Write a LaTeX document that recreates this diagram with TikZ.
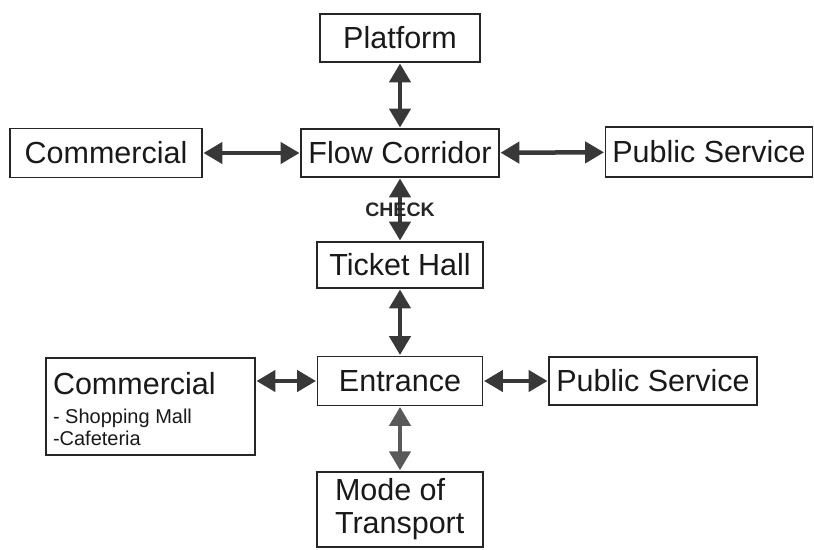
\documentclass[tikz,border=0pt]{standalone}
\usepackage{fontspec}
\setmainfont{Liberation Sans}
\usepackage{tikz}
\usetikzlibrary{positioning}
\usetikzlibrary{arrows.meta}
\colorlet{boxcol}{black!85}
\colorlet{arrcol}{black!78}
\tikzset{>=latex}

\tikzset{
  box/.style={draw=boxcol, line width=1.5pt, inner sep=0pt, text=black!90,
    font=\fontsize{30.5}{33}\selectfont},
  link/.style={arrcol, line width=4.5pt,
    {Triangle[length=19pt,width=21pt]}-{Triangle[length=19pt,width=21pt]}, shorten <=0.7pt, shorten >=0.7pt}
}

\begin{document}
\begin{tikzpicture}[x=1pt,y=-1pt]

\useasboundingbox (0,0) rectangle (814,549);

% ---------------- Upper level ----------------
\node[box, minimum width=160, minimum height=48] (platform) at (400,38) {Platform};
\node[box, minimum width=198, minimum height=48] (corridor) at (400,153) {Flow Corridor};
\node[box, minimum width=192, minimum height=49] (commtop) at (106,153) {Commercial};
\node[box, minimum width=207, minimum height=50] (pubtop) at (709,152) {Public Service};

% ---------------- Ticket hall ----------------
\node[box, minimum width=166, minimum height=46] (ticket) at (400,265) {Ticket Hall};

% ---------------- Lower level ----------------
\node[box, minimum width=165, minimum height=49] (entrance) at (400,381) {Entrance};
\node[box, minimum width=208, minimum height=48] (pubbot) at (653,381) {Public Service};
\node[box, text width=195, inner xsep=7, minimum height=97, align=flush left] (commbot) at (150.5,406.5)
  {Commercial\\[7pt]
   \fontsize{20}{22}\selectfont - Shopping Mall\\
   -Cafeteria\par\vspace{-6pt}};
\node[box, text width=130, inner xsep=18, inner ysep=7, align=flush left, anchor=north] (transport) at (400,471)
  {Mode of\\Transport\\[20pt]};

% ---------------- Connectors ----------------
\draw[link] (platform) -- (corridor);
\draw[link] (commtop) -- (corridor);
\draw[link] (corridor) -- (pubtop);
\draw[link] (corridor) -- node[font=\bfseries\fontsize{19.5}{21}\selectfont, text=black!85] (check) {CHECK} (ticket);
\draw[link] (ticket) -- (entrance);
\draw[link] (entrance.west) -- (entrance.west -| commbot.east);
\draw[link] (entrance) -- (pubbot);
\draw[link, black!65] (entrance) -- (transport);

\end{tikzpicture}
\end{document}
